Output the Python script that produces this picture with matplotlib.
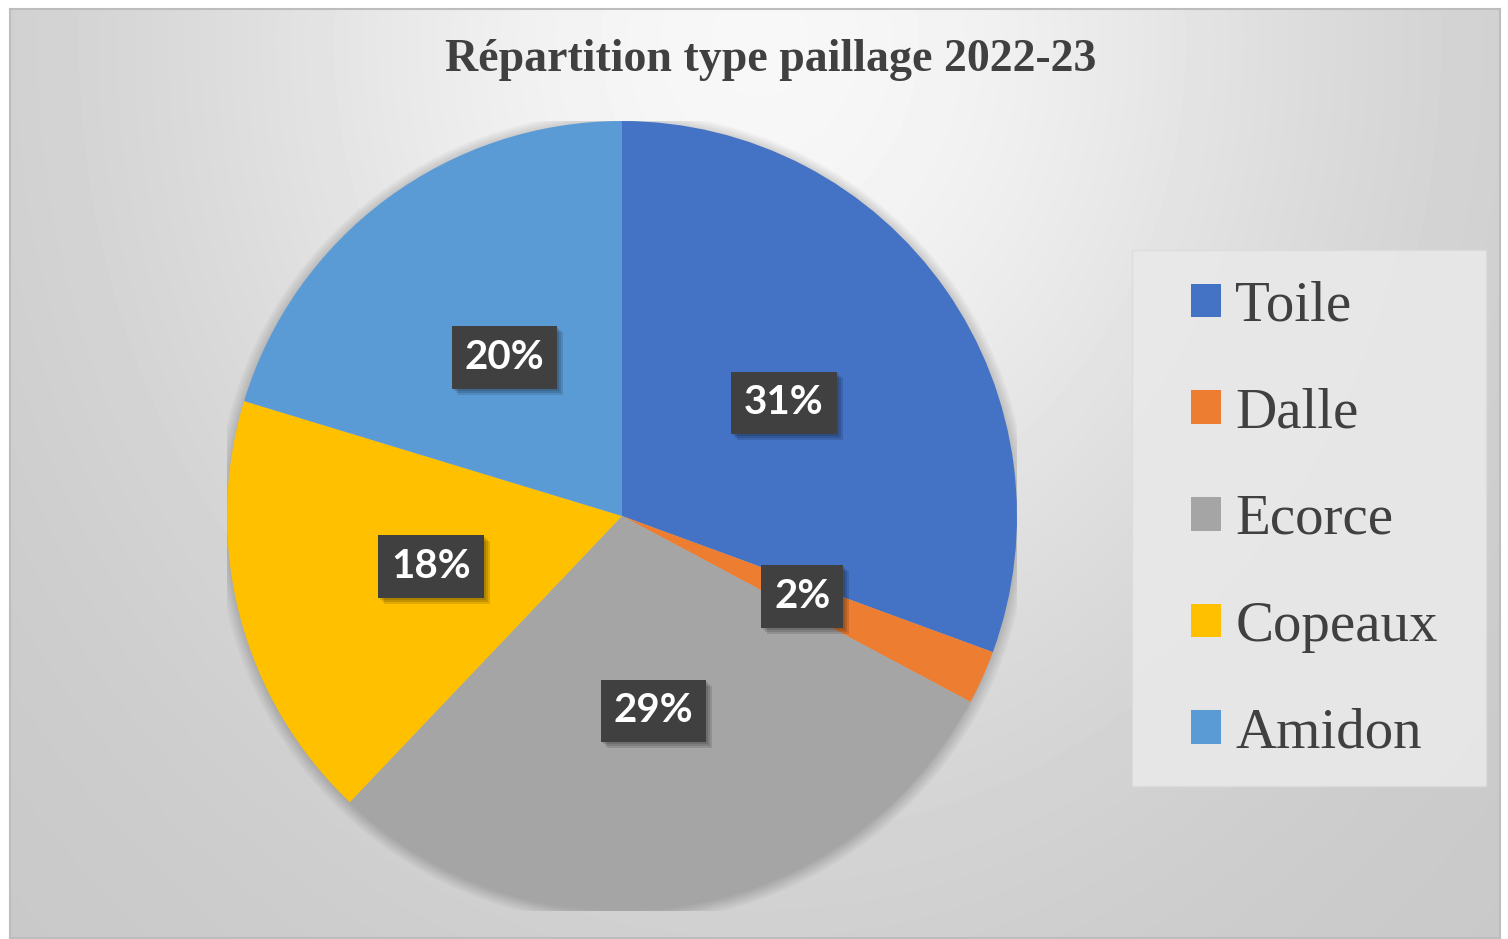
import numpy as np
import matplotlib
matplotlib.use("Agg")
import matplotlib.pyplot as plt
import matplotlib.transforms as mtransforms
from matplotlib.patches import Rectangle, Circle

# data
categories = ["Toile", "Dalle", "Ecorce", "Copeaux", "Amidon"]
shares = [30.6, 2.2, 29.3, 17.6, 20.3]
colors = ["#4472C4", "#ED7D31", "#A5A5A5", "#FFC000", "#5B9BD5"]
title = "Répartition type paillage 2022-23"

W, H = 1508, 939
fig = plt.figure(figsize=(W / 100, H / 100), dpi=100)
fig.patch.set_facecolor("white")

# background panel with soft radial gradient
bg = fig.add_axes([10 / W, 1 / H, 1490 / W, 929 / H])
xs = np.linspace(10, 1500, 400)
ys = np.linspace(9, 938, 250)
X, Y = np.meshgrid(xs, ys)
v = 0.78 + 0.19 * np.exp(-((X - 760) / 600) ** 2) * np.exp(-((Y - 40) / 700) ** 2)
bg.imshow(v, cmap="gray", vmin=0, vmax=1, aspect="auto", extent=[0, 1, 0, 1],
          interpolation="bilinear")
bg.set_xlim(0, 1)
bg.set_ylim(0, 1)
bg.set_xticks([])
bg.set_yticks([])
for side, sp in bg.spines.items():
    sp.set_color("#bdbdbd")
    sp.set_linewidth(1.5)

# title
fig.text(771 / W, 1 - 60 / H, title, ha="center", va="center",
         fontsize=33, fontweight="bold", family="Liberation Serif", color="#404040")

# pie
cx, cy, r = 622, 516, 395
ax = fig.add_axes([(cx - r) / W, (H - cy - r) / H, 2 * r / W, 2 * r / H])
ax.axis("off")

# soft shadow halo around the pie
for k in range(8):
    ax.add_patch(Circle((0.0, -0.005), 1.0 + 0.004 * k, color="black",
                        alpha=0.025, lw=0, zorder=0))

lbl_font = dict(fontsize=29, fontweight="bold", family="Lato")
wedges, texts, autotexts = ax.pie(
    shares, colors=colors, startangle=90, counterclock=False,
    autopct="%.0f%%", pctdistance=0.5, radius=1.0,
    wedgeprops=dict(linewidth=0),
    textprops=dict(color="white", **lbl_font),
)
ax.set_xlim(-1, 1)
ax.set_ylim(-1, 1)

for t in autotexts:
    t.set_bbox(dict(boxstyle="square,pad=0.32", fc="#404040", ec="none"))
    t.set_zorder(6)

# drop shadows behind the label boxes (drawn in pixel coords)
fig.canvas.draw()
pix = mtransforms.IdentityTransform()
for t in autotexts:
    bb = t.get_bbox_patch().get_window_extent()
    for k in range(3):
        off = 2 + 2 * k
        ax.add_patch(Rectangle((bb.x0 + off, bb.y0 - off), bb.width, bb.height,
                               transform=pix, fc="black", ec="none",
                               alpha=0.12, zorder=4))

# legend box
fig.patches.append(Rectangle((1132 / W, 1 - 786 / H), (1486 - 1132) / W, (786 - 250) / H,
                             transform=fig.transFigure, fc="#e9e9e9", ec="#dcdcdc",
                             lw=1, alpha=0.9, zorder=1))
leg = fig.legend(wedges, categories, loc="center left",
                 bbox_to_anchor=(1191 / W, 1 - 520 / H), frameon=False,
                 prop=dict(family="Liberation Serif", size=41),
                 labelcolor="#404040", handlelength=0.53, handleheight=0.53,
                 handletextpad=0.25, labelspacing=0.96, borderpad=0,
                 borderaxespad=0)
leg.set_zorder(3)

fig.savefig("out.png", dpi=100)
